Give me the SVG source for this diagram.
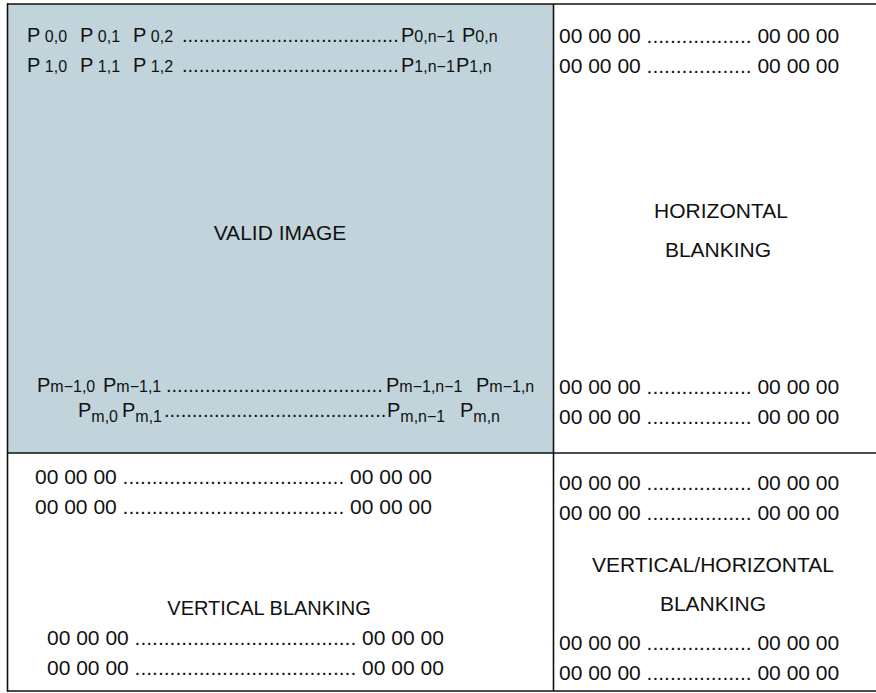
<svg xmlns="http://www.w3.org/2000/svg" width="876" height="693" viewBox="0 0 876 693">
<style>
.t{font-family:"Liberation Sans",Arial,sans-serif;font-size:21px;fill:#111}
.p{font-family:"Liberation Sans",Arial,sans-serif;font-size:20px;fill:#111}
.s{font-size:16px}
.ln{stroke:#111;stroke-width:1.6;fill:none}
</style>
<rect x="0" y="0" width="876" height="693" fill="#fff"/>
<g id="valid-image">
<rect x="8" y="4" width="545" height="449" fill="#c1d4db"/>
<text class="p" y="42" xml:space="preserve"><tspan x="27">P</tspan><tspan class="s"> 0,0</tspan><tspan x="80">P</tspan><tspan class="s"> 0,1</tspan><tspan x="133">P</tspan><tspan class="s"> 0,2</tspan><tspan x="182">.......................................</tspan><tspan x="401">P</tspan><tspan class="s">0,n−1</tspan><tspan x="462">P</tspan><tspan class="s">0,n</tspan></text>
<text class="p" y="72" xml:space="preserve"><tspan x="27">P</tspan><tspan class="s"> 1,0</tspan><tspan x="80">P</tspan><tspan class="s"> 1,1</tspan><tspan x="133">P</tspan><tspan class="s"> 1,2</tspan><tspan x="182">.......................................</tspan><tspan x="401">P</tspan><tspan class="s">1,n−1</tspan><tspan x="456">P</tspan><tspan class="s">1,n</tspan></text>
<text class="t" x="280" y="240" text-anchor="middle">VALID IMAGE</text>
<text class="p" y="392" xml:space="preserve"><tspan x="37">P</tspan><tspan class="s">m−1,0</tspan><tspan x="103">P</tspan><tspan class="s">m−1,1</tspan><tspan x="166">.......................................</tspan><tspan x="386">P</tspan><tspan class="s">m−1,n−1</tspan><tspan x="476">P</tspan><tspan class="s">m−1,n</tspan></text>
<text class="p" xml:space="preserve"><tspan x="78" y="417">P</tspan><tspan class="s" y="422">m,0</tspan><tspan x="122" y="417">P</tspan><tspan class="s" y="422">m,1</tspan><tspan x="164" y="417">........................................</tspan><tspan x="387" y="417">P</tspan><tspan class="s" y="422">m,n−1</tspan><tspan x="460" y="417">P</tspan><tspan class="s" y="422">m,n</tspan></text>
</g>
<g id="horizontal-blanking">
<text class="t" x="559" y="43">00 00 00 .................. 00 00 00</text>
<text class="t" x="559" y="73">00 00 00 .................. 00 00 00</text>
<text class="t" x="721" y="218" text-anchor="middle">HORIZONTAL</text>
<text class="t" x="718" y="257" text-anchor="middle">BLANKING</text>
<text class="t" x="559" y="394">00 00 00 .................. 00 00 00</text>
<text class="t" x="559" y="424">00 00 00 .................. 00 00 00</text>
</g>
<g id="vertical-blanking">
<text class="t" x="35" y="484">00 00 00 ...................................... 00 00 00</text>
<text class="t" x="35" y="514">00 00 00 ...................................... 00 00 00</text>
<text class="t" x="269" y="615" text-anchor="middle" style="font-size:20px">VERTICAL BLANKING</text>
<text class="t" x="47" y="645">00 00 00 ...................................... 00 00 00</text>
<text class="t" x="47" y="675">00 00 00 ...................................... 00 00 00</text>
</g>
<g id="vertical-horizontal-blanking">
<text class="t" x="559" y="490">00 00 00 .................. 00 00 00</text>
<text class="t" x="559" y="520">00 00 00 .................. 00 00 00</text>
<text class="t" x="713" y="572" text-anchor="middle">VERTICAL/HORIZONTAL</text>
<text class="t" x="713" y="611" text-anchor="middle">BLANKING</text>
<text class="t" x="559" y="650">00 00 00 .................. 00 00 00</text>
<text class="t" x="559" y="680">00 00 00 .................. 00 00 00</text>
</g>
<g id="connectors">
<line class="ln" x1="7" y1="4" x2="876" y2="4"/>
<line class="ln" x1="7.5" y1="3.2" x2="7.5" y2="691.8"/>
<line class="ln" x1="7" y1="691" x2="876" y2="691"/>
<line class="ln" x1="553.5" y1="4" x2="553.5" y2="691"/>
<line class="ln" x1="7" y1="453" x2="876" y2="453"/>
</g>
</svg>
